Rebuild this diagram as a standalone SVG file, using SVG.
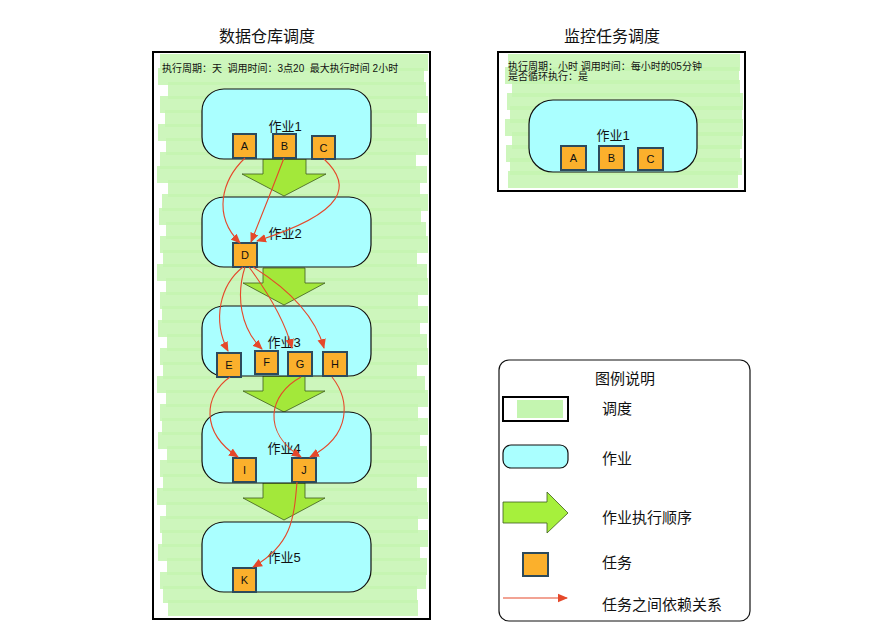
<svg xmlns="http://www.w3.org/2000/svg" width="896" height="641" viewBox="0 0 896 641">
<style>
text{font-family:"Liberation Sans","Noto Sans CJK SC",sans-serif;fill:#111}
.title{font-size:16px;text-anchor:middle}
.hdr{font-size:10px;white-space:pre}
.jl{font-size:13px;text-anchor:middle}
.tl{font-size:11px;text-anchor:middle}
.lg{font-size:15px}
.hatch rect{fill:#c4f5b0;opacity:0.85}
.job{fill:#aaffff;stroke:#111;stroke-width:1.2}
.task{fill:#fbb02c;stroke:#2c4a5c;stroke-width:2}
.flow{fill:#a3e83a;stroke:#3d5a1e;stroke-width:0.8}
.dep{fill:none;stroke:#e5482a;stroke-width:1.1;marker-end:url(#ah)}
.frame{fill:none;stroke:#000;stroke-width:2}
</style>
<defs>
<marker id="ah" markerUnits="userSpaceOnUse" markerWidth="10" markerHeight="10" viewBox="0 0 10 10" refX="9" refY="5" orient="auto">
<path d="M0,0.8 L10,5 L0,9.2 Z" fill="#e5482a"/>
</marker>
</defs>
<rect width="896" height="641" fill="#fff"/>

<g id="panel-dw">
<text class="title" x="267" y="42">数据仓库调度</text>
<g class="hatch">
<rect x="160" y="54" width="268" height="17"/>
<rect x="158" y="68" width="266" height="17"/>
<rect x="168" y="82" width="258" height="17"/>
<rect x="160" y="96" width="268" height="17"/>
<rect x="165" y="110" width="252" height="17"/>
<rect x="158" y="124" width="268" height="17"/>
<rect x="166" y="138" width="262" height="17"/>
<rect x="160" y="152" width="256" height="17"/>
<rect x="157" y="166" width="270" height="17"/>
<rect x="168" y="180" width="252" height="17"/>
<rect x="162" y="194" width="266" height="17"/>
<rect x="159" y="208" width="262" height="17"/>
<rect x="166" y="222" width="260" height="17"/>
<rect x="160" y="236" width="268" height="17"/>
<rect x="163" y="250" width="254" height="17"/>
<rect x="157" y="264" width="270" height="17"/>
<rect x="166" y="278" width="262" height="17"/>
<rect x="160" y="292" width="258" height="17"/>
<rect x="162" y="306" width="266" height="17"/>
<rect x="158" y="320" width="262" height="17"/>
<rect x="167" y="334" width="260" height="17"/>
<rect x="160" y="348" width="268" height="17"/>
<rect x="163" y="362" width="254" height="17"/>
<rect x="157" y="376" width="268" height="17"/>
<rect x="166" y="390" width="262" height="17"/>
<rect x="160" y="404" width="258" height="17"/>
<rect x="162" y="418" width="266" height="17"/>
<rect x="158" y="432" width="262" height="17"/>
<rect x="167" y="446" width="260" height="17"/>
<rect x="160" y="460" width="268" height="17"/>
<rect x="163" y="474" width="254" height="17"/>
<rect x="157" y="488" width="270" height="17"/>
<rect x="166" y="502" width="262" height="17"/>
<rect x="160" y="516" width="258" height="17"/>
<rect x="162" y="530" width="266" height="17"/>
<rect x="158" y="544" width="262" height="17"/>
<rect x="167" y="558" width="260" height="17"/>
<rect x="160" y="572" width="266" height="17"/>
<rect x="163" y="586" width="254" height="17"/>
<rect x="168" y="600" width="250" height="16"/>
</g>
<rect class="frame" x="153" y="52" width="277" height="567"/>
<text class="hdr" x="162" y="72" xml:space="preserve">执行周期：天  调用时间：3点20  最大执行时间 2小时</text>
</g>

<g id="flow-arrows">
<path class="flow" d="M263,159 H306 V174 H326 L284,196 L242,174 H263 Z"/>
<path class="flow" d="M263,268 H305 V283 H325 L284,305 L243,283 H263 Z"/>
<path class="flow" d="M263,376 H305 V391 H325 L284,412 L243,391 H263 Z"/>
<path class="flow" d="M263,483 H305 V498 H325 L284,520 L243,498 H263 Z"/>
</g>

<g id="job1">
<rect class="job" x="202" y="89" width="169" height="70" rx="22"/>
<text class="jl" x="285" y="131">作业1</text>
</g>
<g id="job2">
<rect class="job" x="202" y="197" width="169" height="70" rx="22"/>
<text class="jl" x="285" y="238">作业2</text>
</g>
<g id="job3">
<rect class="job" x="202" y="306" width="169" height="70" rx="22"/>
<text class="jl" x="284" y="347">作业3</text>
</g>
<g id="job4">
<rect class="job" x="202" y="412" width="169" height="71" rx="22"/>
<text class="jl" x="284" y="453">作业4</text>
</g>
<g id="job5">
<rect class="job" x="202" y="522" width="169" height="70" rx="22"/>
<text class="jl" x="284" y="562">作业5</text>
</g>

<g id="task-A"><rect class="task" x="233" y="134" width="23" height="24"/><text class="tl" x="244.5" y="150">A</text></g>
<g id="task-B"><rect class="task" x="273" y="134" width="23" height="24"/><text class="tl" x="284.5" y="150">B</text></g>
<g id="task-C"><rect class="task" x="312" y="136" width="23" height="23"/><text class="tl" x="323.5" y="152">C</text></g>
<g id="task-D"><rect class="task" x="233" y="243" width="24" height="24"/><text class="tl" x="245" y="259">D</text></g>
<g id="task-E"><rect class="task" x="217" y="353" width="24" height="24"/><text class="tl" x="229" y="369">E</text></g>
<g id="task-F"><rect class="task" x="255" y="351" width="23" height="23"/><text class="tl" x="266.5" y="366">F</text></g>
<g id="task-G"><rect class="task" x="288" y="352" width="24" height="24"/><text class="tl" x="300" y="368">G</text></g>
<g id="task-H"><rect class="task" x="323" y="352" width="24" height="24"/><text class="tl" x="335" y="368">H</text></g>
<g id="task-I"><rect class="task" x="233" y="458" width="23" height="24"/><text class="tl" x="244.5" y="474">I</text></g>
<g id="task-J"><rect class="task" x="292" y="458" width="24" height="24"/><text class="tl" x="304" y="474">J</text></g>
<g id="task-K"><rect class="task" x="233" y="568" width="23" height="24"/><text class="tl" x="244.5" y="584">K</text></g>

<g id="connectors">
<path class="dep" d="M245,158 C222,180 212,215 240,243"/>
<path class="dep" d="M284,158 Q268,200 251,242"/>
<path class="dep" d="M324,159 C352,185 348,212 257,241"/>
<path class="dep" d="M243,267 C220,285 212,320 228,351"/>
<path class="dep" d="M245,267 C236,295 240,328 262,349"/>
<path class="dep" d="M249,267 C266,290 284,318 292,348"/>
<path class="dep" d="M253,267 C282,285 314,312 324,348"/>
<path class="dep" d="M230,377 C204,395 200,432 238,457"/>
<path class="dep" d="M301,377 C268,395 262,432 301,457"/>
<path class="dep" d="M332,377 C350,400 352,435 310,457"/>
<path class="dep" d="M297,482 C294,520 291,545 253,567"/>
</g>

<g id="panel-monitor">
<text class="title" x="612" y="42">监控任务调度</text>
<g class="hatch">
<rect x="508" y="54" width="232" height="17"/>
<rect x="505" y="67" width="234" height="17"/>
<rect x="512" y="80" width="228" height="17"/>
<rect x="507" y="93" width="236" height="17"/>
<rect x="510" y="106" width="232" height="17"/>
<rect x="505" y="119" width="238" height="17"/>
<rect x="512" y="132" width="230" height="17"/>
<rect x="506" y="145" width="234" height="17"/>
<rect x="510" y="158" width="232" height="17"/>
<rect x="508" y="171" width="230" height="17"/>
</g>
<rect class="frame" x="498" y="52" width="247" height="139"/>
<text class="hdr" x="508" y="70">执行周期：小时 调用时间：每小时的05分钟</text>
<text class="hdr" x="508" y="80">是否循环执行：是</text>
</g>
<g id="mjob1">
<rect class="job" x="529" y="100" width="168" height="72" rx="24"/>
<text class="jl" x="613" y="140">作业1</text>
</g>
<g id="mtask-A"><rect class="task" x="561" y="146" width="25" height="24"/><text class="tl" x="573.5" y="162">A</text></g>
<g id="mtask-B"><rect class="task" x="599" y="146" width="25" height="24"/><text class="tl" x="611.5" y="162">B</text></g>
<g id="mtask-C"><rect class="task" x="638" y="148" width="25" height="22"/><text class="tl" x="650.5" y="163">C</text></g>

<g id="legend">
<rect x="499" y="360" width="251" height="261" rx="10" fill="#fff" stroke="#111" stroke-width="1.2"/>
<text x="625" y="384" class="lg" text-anchor="middle">图例说明</text>
<rect x="517" y="400" width="46" height="18" fill="#c4f5b0"/>
<rect x="503" y="397" width="65" height="24" fill="none" stroke="#000" stroke-width="2"/>
<text class="lg" x="602" y="414">调度</text>
<rect class="job" x="503" y="445" width="65" height="23" rx="8"/>
<text class="lg" x="602" y="464">作业</text>
<path class="flow" d="M503,502 H547 V492 L568,513 L547,533 V523 H503 Z" style="fill:#a6f03c"/>
<text class="lg" x="602" y="523">作业执行顺序</text>
<rect class="task" x="523" y="553" width="25" height="23"/>
<text class="lg" x="602" y="568">任务</text>
<path class="dep" d="M503,598 H567"/>
<text class="lg" x="602" y="610">任务之间依赖关系</text>
</g>
</svg>
